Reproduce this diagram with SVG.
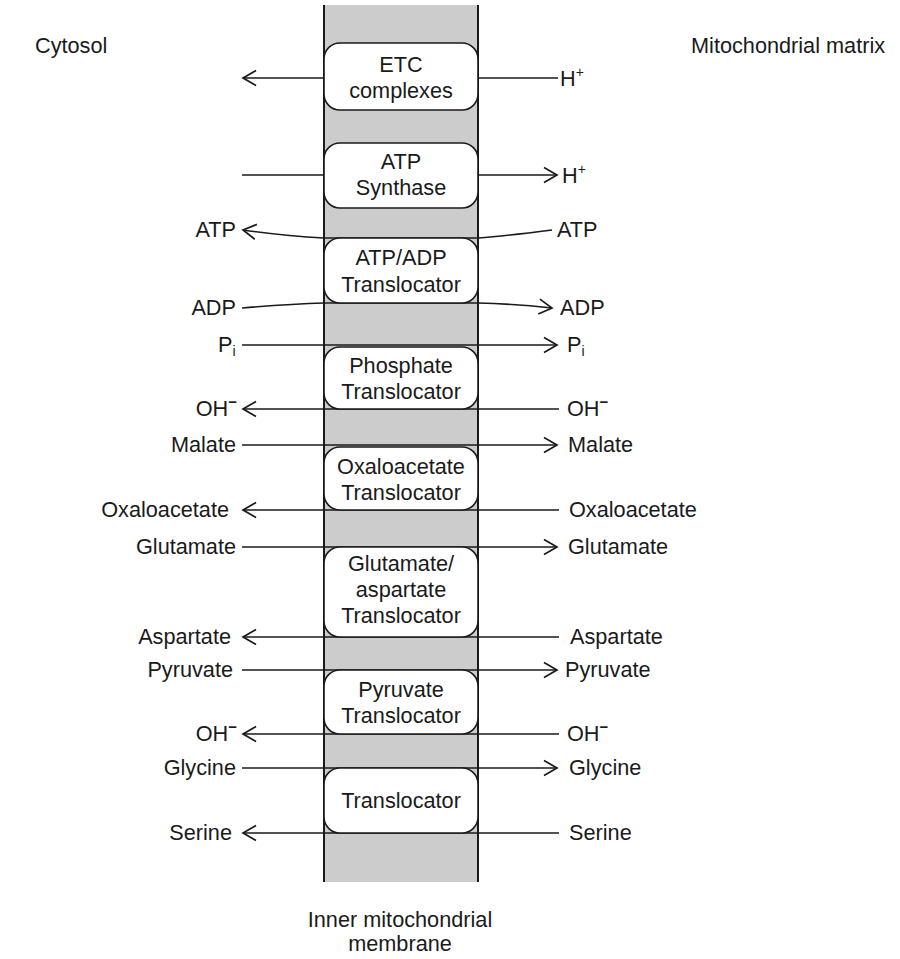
<svg xmlns="http://www.w3.org/2000/svg" width="900" height="959" viewBox="0 0 900 959">
<defs>
<style>
text{font-family:"Liberation Sans",Arial,sans-serif;font-size:21.7px;fill:#1a1a1a}
.m{text-anchor:middle}
.e{text-anchor:end}
.box{fill:#fff;stroke:#1a1a1a;stroke-width:1.6}
.ln{fill:none;stroke:#1a1a1a;stroke-width:1.6}
.sup{font-size:14px}
.neg{font-size:15px;font-weight:bold}
</style>
<marker id="ah" markerUnits="userSpaceOnUse" viewBox="0 0 16 18" refX="14" refY="9" markerWidth="16" markerHeight="18" orient="auto">
<path d="M1,1.5 L14,9 L1,16.5" fill="none" stroke="#1a1a1a" stroke-width="1.7"/>
</marker>
</defs>
<rect width="900" height="959" fill="#fff"/>

<g id="membrane">
<rect x="324" y="5" width="154" height="877" fill="#cccccc"/>
<line x1="324" y1="5" x2="324" y2="882" stroke="#1a1a1a" stroke-width="2"/>
<line x1="478" y1="5" x2="478" y2="882" stroke="#1a1a1a" stroke-width="2"/>
</g>

<g id="connectors">
<line class="ln" x1="324" y1="78" x2="243" y2="78" marker-end="url(#ah)"/>
<line class="ln" x1="478" y1="78" x2="558" y2="78"/>
<line class="ln" x1="242" y1="175" x2="324" y2="175"/>
<line class="ln" x1="478" y1="175" x2="557" y2="175" marker-end="url(#ah)"/>
<path class="ln" d="M552,230 Q505,236 478,238 L324,238 Q285,236 243,230" marker-end="url(#ah)"/>
<path class="ln" d="M242,308 Q290,304 324,303 L478,303 Q515,304 552,308" marker-end="url(#ah)"/>
<line class="ln" x1="242" y1="345" x2="557" y2="345" marker-end="url(#ah)"/>
<line class="ln" x1="559" y1="409" x2="243" y2="409" marker-end="url(#ah)"/>
<line class="ln" x1="242" y1="445" x2="557" y2="445" marker-end="url(#ah)"/>
<line class="ln" x1="559" y1="510" x2="243" y2="510" marker-end="url(#ah)"/>
<line class="ln" x1="242" y1="547" x2="557" y2="547" marker-end="url(#ah)"/>
<line class="ln" x1="559" y1="637" x2="243" y2="637" marker-end="url(#ah)"/>
<line class="ln" x1="242" y1="670" x2="557" y2="670" marker-end="url(#ah)"/>
<line class="ln" x1="559" y1="734" x2="243" y2="734" marker-end="url(#ah)"/>
<line class="ln" x1="242" y1="768" x2="557" y2="768" marker-end="url(#ah)"/>
<line class="ln" x1="559" y1="833" x2="243" y2="833" marker-end="url(#ah)"/>
</g>

<g id="etc">
<rect class="box" x="324" y="43" width="154" height="67" rx="16"/>
<text class="m" x="401" y="72">ETC</text>
<text class="m" x="401" y="98">complexes</text>
</g>
<g id="atp-synthase">
<rect class="box" x="324" y="143" width="154" height="65" rx="16"/>
<text class="m" x="401" y="169">ATP</text>
<text class="m" x="401" y="195">Synthase</text>
</g>
<g id="atp-adp">
<rect class="box" x="324" y="238" width="154" height="65" rx="16"/>
<text class="m" x="401" y="265">ATP/ADP</text>
<text class="m" x="401" y="292">Translocator</text>
</g>
<g id="phosphate">
<rect class="box" x="324" y="347" width="154" height="62" rx="16"/>
<text class="m" x="401" y="373">Phosphate</text>
<text class="m" x="401" y="399">Translocator</text>
</g>
<g id="oxaloacetate">
<rect class="box" x="324" y="447" width="154" height="63" rx="16"/>
<text class="m" x="401" y="474">Oxaloacetate</text>
<text class="m" x="401" y="500">Translocator</text>
</g>
<g id="glu-asp">
<rect class="box" x="324" y="547" width="154" height="90" rx="16"/>
<text class="m" x="401" y="571">Glutamate/</text>
<text class="m" x="401" y="597">aspartate</text>
<text class="m" x="401" y="623">Translocator</text>
</g>
<g id="pyruvate">
<rect class="box" x="324" y="670" width="154" height="64" rx="16"/>
<text class="m" x="401" y="697">Pyruvate</text>
<text class="m" x="401" y="723">Translocator</text>
</g>
<g id="translocator">
<rect class="box" x="324" y="768" width="154" height="65" rx="16"/>
<text class="m" x="401" y="808">Translocator</text>
</g>

<g id="labels">
<text x="35" y="53">Cytosol</text>
<text x="691" y="53">Mitochondrial matrix</text>
<text class="m" x="400" y="927">Inner mitochondrial</text>
<text class="m" x="400" y="951">membrane</text>

<text x="560" y="86">H<tspan class="sup" dy="-9">+</tspan></text>
<text x="562" y="183">H<tspan class="sup" dy="-9">+</tspan></text>

<text class="e" x="236" y="237">ATP</text>
<text x="557" y="237">ATP</text>
<text class="e" x="236" y="315">ADP</text>
<text x="560" y="315">ADP</text>
<text x="218" y="352">P<tspan class="sup" dy="4">i</tspan></text>
<text x="567" y="352">P<tspan class="sup" dy="4">i</tspan></text>
<text class="e" x="237" y="416">OH<tspan class="neg" dy="-9">−</tspan></text>
<text x="567" y="416">OH<tspan class="neg" dy="-9">−</tspan></text>
<text class="e" x="236" y="452">Malate</text>
<text x="568" y="452">Malate</text>
<text class="e" x="229" y="517">Oxaloacetate</text>
<text x="569" y="517">Oxaloacetate</text>
<text class="e" x="236" y="554">Glutamate</text>
<text x="568" y="554">Glutamate</text>
<text class="e" x="231" y="644">Aspartate</text>
<text x="570" y="644">Aspartate</text>
<text class="e" x="233" y="677">Pyruvate</text>
<text x="565" y="677">Pyruvate</text>
<text class="e" x="237" y="741">OH<tspan class="neg" dy="-9">−</tspan></text>
<text x="567" y="741">OH<tspan class="neg" dy="-9">−</tspan></text>
<text class="e" x="236" y="775">Glycine</text>
<text x="569" y="775">Glycine</text>
<text class="e" x="232" y="840">Serine</text>
<text x="569" y="840">Serine</text>
</g>
</svg>
